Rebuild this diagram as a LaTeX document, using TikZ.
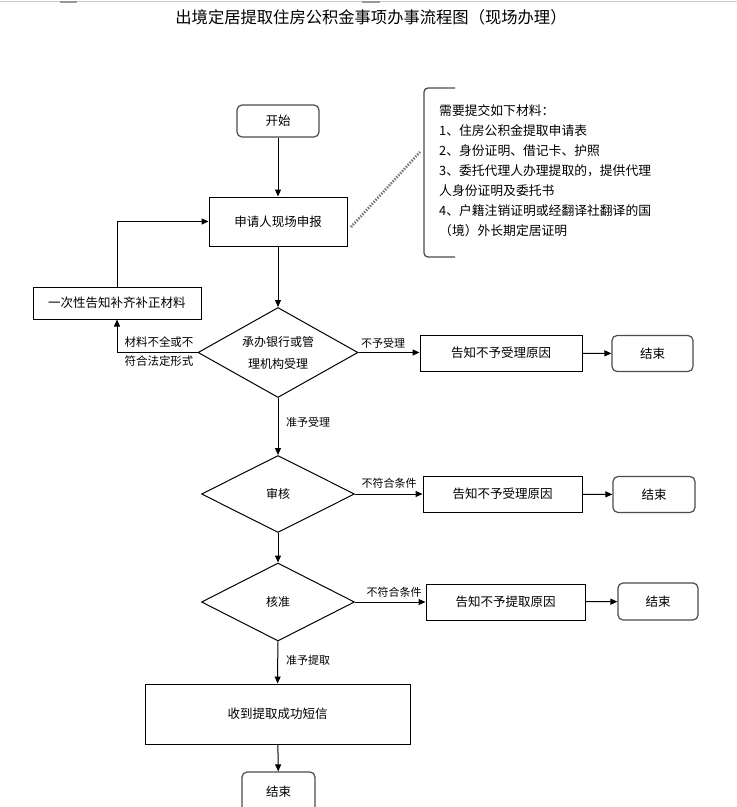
\documentclass[tikz,border=0pt]{standalone}
\usepackage{fontspec}
\setmainfont{Noto Sans CJK SC}
\usetikzlibrary{shapes.geometric,arrows.meta}
\begin{document}
\begin{tikzpicture}[x=1pt,y=-1pt,
  box/.style={draw=black, line width=1pt, inner sep=0pt, font=\fontsize{12.5}{15}\selectfont},
  term/.style={draw=black!70, line width=1.2pt, rounded corners=5pt, inner sep=0pt, font=\fontsize{12.5}{15}\selectfont},
  dia/.style={draw=black, diamond, line width=1pt, inner sep=0pt, align=center, font=\fontsize{12}{22}\selectfont},
  arr/.style={-{Triangle[length=7pt,width=6pt]}, line width=1pt},
  lbl/.style={inner sep=0pt, font=\fontsize{11}{13}\selectfont}
]
\clip (0,0) rectangle (737,807);
\fill[white] (0,0) rectangle (737,807);
% faint page edge at top
\draw[black!20, line width=1pt] (0,1.5) -- (737,1.5);
\draw[black!40, line width=1.5pt] (60,2) -- (77,2);
\draw[black!40, line width=1.5pt] (362,2) -- (380,2);

\node[inner sep=0pt, font=\fontsize{16.3}{18}\selectfont] (title) at (371,17) {出境定居提取住房公积金事项办事流程图（现场办理）};

\node[term, minimum width=82pt, minimum height=32pt] (start) at (278,121) {开始};
\node[box, minimum width=138pt, minimum height=49pt] (apply) at (278,221.5) {申请人现场申报};
\node[box, minimum width=168pt, minimum height=32pt] (fix) at (117,303) {一次性告知补齐补正材料};

\node[dia, minimum width=160pt, minimum height=90pt, aspect=1.78] (d1) at (278,352.5) {承办银行或管\\理机构受理};
\node[box, minimum width=162pt, minimum height=36pt] (r1) at (501,353) {告知不予受理原因};
\node[term, minimum width=81pt, minimum height=36pt] (e1) at (652.5,353.5) {结束};

\node[dia, minimum width=153pt, minimum height=77pt, aspect=1.98] (d2) at (278,494) {审核};
\node[box, minimum width=159pt, minimum height=36pt] (r2) at (502.5,494) {告知不予受理原因};
\node[term, minimum width=82pt, minimum height=36pt] (e2) at (654,494.5) {结束};

\node[dia, minimum width=153pt, minimum height=78pt, aspect=1.96] (d3) at (278,602) {核准};
\node[box, minimum width=159pt, minimum height=36pt] (r3) at (505.5,602) {告知不予提取原因};
\node[term, minimum width=80pt, minimum height=37pt] (e3) at (658,601.5) {结束};

\node[box, minimum width=265pt, minimum height=60pt] (sms) at (277.5,714) {收到提取成功短信};
\node[term, minimum width=73pt, minimum height=40pt] (e4) at (278.5,792) {结束};

% materials note
\node[inner sep=0pt, anchor=north west, align=left, font=\fontsize{12.8}{20}\selectfont] (note) at (439,104)
{需要提交如下材料：\\
1、住房公积金提取申请表\\
2、身份证明、借记卡、护照\\
3、委托代理人办理提取的，提供代理\\
人身份证明及委托书\\
4、户籍注销证明或经翻译社翻译的国\\
（境）外长期定居证明};
\draw[black!70, line width=1.3pt, rounded corners=4pt] (455,88) -- (424,88) -- (424,257) -- (455,257);
\coordinate (dA) at (351,227);
\coordinate (dB) at (420,152);
\draw[black!55, line width=2.6pt, dash pattern=on 1.4pt off 1.4pt] (dA) -- (dB);

% connectors
\draw[arr] (start) -- (apply);
\draw[arr] (apply) -- (d1);
\draw[arr] (fix.north) |- (apply.west);
\draw[arr] (d1.west) -| (fix.south);
\node[lbl, align=center, font=\fontsize{11.5}{19}\selectfont] (l1) at (159,351.5) {材料不全或不\\符合法定形式};
\draw[arr] (d1.east) -- (d1.east -| r1.west);
\node[lbl] (l2) at (383,343) {不予受理};
\draw[arr] (r1) -- (e1);
\draw[arr] (d1) -- (d2);
\node[lbl, anchor=west] (l3) at (286,422) {准予受理};
\draw[arr] (d2.east) -- (d2.east -| r2.west);
\node[lbl] (l4) at (389,483) {不符合条件};
\draw[arr] (r2) -- (e2);
\draw[arr] (d2) -- (d3);
\draw[arr] (d3.east) -- (d3.east -| r3.west);
\node[lbl] (l5) at (394,592) {不符合条件};
\draw[arr] (r3) -- (e3);
\draw[arr] (d3) -- (sms);
\node[lbl, anchor=west] (l6) at (286,660) {准予提取};
\draw[arr] (sms) -- (e4);
\end{tikzpicture}
\end{document}
